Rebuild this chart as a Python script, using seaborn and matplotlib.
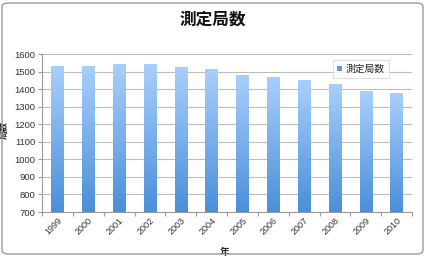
import numpy as np
import pandas as pd
import matplotlib
matplotlib.use("Agg")
import matplotlib.pyplot as plt
import seaborn as sns
from matplotlib.colors import LinearSegmentedColormap
from matplotlib.patches import FancyBboxPatch, Patch

years = ["1999", "2000", "2001", "2002", "2003", "2004", "2005", "2006", "2007", "2008", "2009", "2010"]
counts = [1530, 1529, 1541, 1538, 1521, 1509, 1480, 1466, 1449, 1424, 1388, 1377]
series_name = "測定局数"
title = "測定局数"
xlabel = "年"
ylabel = "局数"

sns.set_theme(style="white")
plt.rcParams['font.family'] = ['Liberation Sans', 'Noto Sans CJK JP', 'DejaVu Sans']

df = pd.DataFrame({"year": years, "count": counts})

fig = plt.figure(figsize=(4.25, 2.56), dpi=100)
ax = fig.add_axes([42/425, 1 - 212/256, 370/425, 158/256])

sns.barplot(data=df, x="year", y="count", ax=ax, color="#6aa8ec", width=0.4, zorder=2)
ax.set_ylim(700, 1600)
ax.set_xlim(-0.5, len(years) - 0.5)

cmap = LinearSegmentedColormap.from_list("g", ["#4a8fd9", "#a9cffb"])
grad = np.linspace(0, 1, 256).reshape(-1, 1)
for p in ax.patches:
    x0, y0 = p.get_x(), p.get_y()
    w, h = p.get_width(), p.get_height()
    ax.imshow(grad, extent=[x0, x0 + w, 700, y0 + h], origin="lower",
              cmap=cmap, aspect="auto", zorder=3)
    p.set_visible(False)
ax.set_xlim(-0.5, len(years) - 0.5)
ax.set_ylim(700, 1600)

ax.set_yticks(np.arange(700, 1601, 100))
ax.yaxis.grid(True, color="#bdbdbd", linewidth=0.8, zorder=0)
ax.set_axisbelow(True)
for s in ["top", "right"]:
    ax.spines[s].set_visible(False)
for s in ["left", "bottom"]:
    ax.spines[s].set_color("#9a9a9a")
    ax.spines[s].set_linewidth(0.8)

ax.tick_params(axis="y", labelsize=6.8, colors="#333333", length=3, width=0.8, direction="out", left=True, pad=2)
ax.tick_params(axis="y", color="#9a9a9a")
ax.set_xticks(range(len(years)))
ax.set_xticklabels(years, rotation=45, fontsize=6.5, color="#333333")
ax.tick_params(axis="x", length=0, pad=3)
ax.set_xticks(np.arange(-0.5, len(years), 1), minor=True)
ax.tick_params(axis="x", which="minor", length=3, width=0.8, color="#9a9a9a", bottom=True, direction="out")
for lab in ax.get_xticklabels():
    lab.set_ha("right")
    lab.set_rotation_mode("anchor")

ax.set_xlabel(xlabel, fontsize=7, fontweight="bold")
ax.set_ylabel(ylabel, fontsize=6.5, fontweight="bold")
ax.xaxis.set_label_coords((225 - 42) / 370, -(247 - 212) / 158)
ax.yaxis.set_label_coords(-(42 - 9) / 370, (212 - 130) / 158)

fig.text(0.5, 1 - 20/256, title, ha="center", va="center", fontsize=12, fontweight="bold", color="#111111")

handle = Patch(facecolor="#5a9be3", edgecolor="none")
leg = ax.legend([handle], [series_name], loc="upper right",
                bbox_to_anchor=((389 - 42) / 370, (212 - 60) / 158),
                fontsize=7, frameon=True, handlelength=0.5, handleheight=0.5,
                handletextpad=0.4, borderpad=0.4, borderaxespad=0, fancybox=False)
leg.get_frame().set_edgecolor("#d8d8d8")
leg.get_frame().set_linewidth(0.8)

border = FancyBboxPatch((2/425, 2/256), 421/425, 251/256, boxstyle="round,pad=0,rounding_size=0.015",
                        transform=fig.transFigure, fill=False, edgecolor="#9a9a9a", linewidth=1)
fig.patches.append(border)

fig.savefig("out.png", dpi=100, facecolor="white")
